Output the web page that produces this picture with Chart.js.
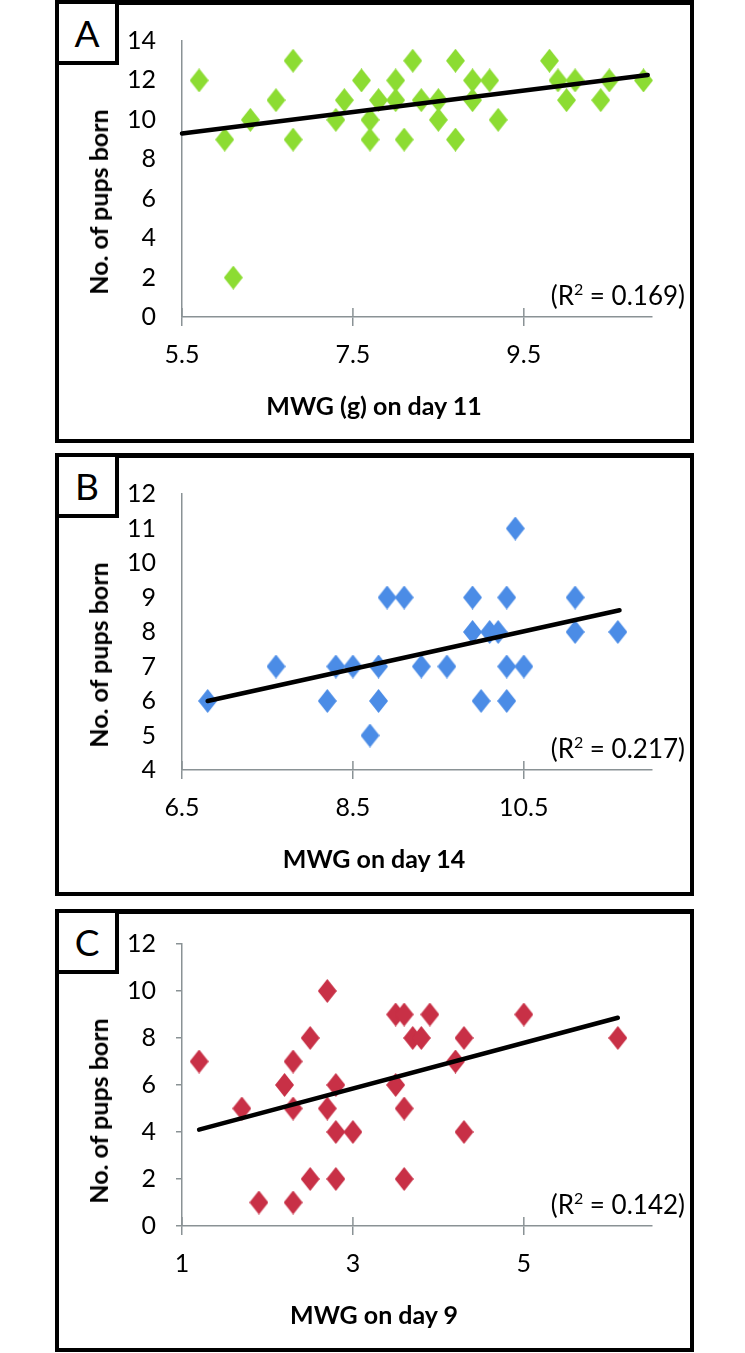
<!DOCTYPE html>
<html>
<head>
<meta charset="utf-8">
<script src="https://cdn.jsdelivr.net/npm/chart.js@4.4.0/dist/chart.umd.min.js"></script>
<style>
  body { margin: 0; background: #fff; width: 745px; height: 1353px; position: relative; overflow: hidden; font-family: Lato, sans-serif; }
  .panel { position: absolute; left: 55px; width: 639px; height: 443px; }
  .panel canvas { position: absolute; left: 0; top: 0; }
  .frame { position: absolute; left: 0; top: 0; right: 0; bottom: 0; border: 4px solid #000; border-top-width: 5px; box-sizing: border-box; pointer-events: none; }
  .tag { position: absolute; left: 0; top: 0; width: 64px; height: 65px; box-sizing: border-box; border: 4px solid #000; background: #fff; font-size: 37px; display: flex; align-items: center; justify-content: center; }
  .ytitle { position: absolute; left: 43px; top: 202px; font-weight: bold; font-size: 25px; white-space: nowrap; transform: translate(-50%, -50%) rotate(-90deg); }
  .xtitle { position: absolute; left: 319px; top: 405px; font-weight: bold; font-size: 25px; white-space: nowrap; transform: translate(-50%, -50%); }
  .r2 { position: absolute; right: 9px; top: 295px; font-size: 26px; white-space: nowrap; transform: translateY(-50%); }
  .r2 sup { font-size: 16px; vertical-align: 10px; line-height: 0; }
</style>
</head>
<body>

<div class="panel" style="top:0px">
  <canvas id="chartA" width="639" height="443"></canvas>
  <div class="frame"></div>
  <div class="tag">A</div>
  <div class="ytitle">No. of pups born</div>
  <div class="xtitle">MWG (g) on day 11</div>
  <div class="r2">(R<sup>2</sup> = 0.169)</div>
</div>

<div class="panel" style="top:453px">
  <canvas id="chartB" width="639" height="443"></canvas>
  <div class="frame"></div>
  <div class="tag">B</div>
  <div class="ytitle">No. of pups born</div>
  <div class="xtitle">MWG on day 14</div>
  <div class="r2">(R<sup>2</sup> = 0.217)</div>
</div>

<div class="panel" style="top:909px">
  <canvas id="chartC" width="639" height="443"></canvas>
  <div class="frame"></div>
  <div class="tag">C</div>
  <div class="ytitle">No. of pups born</div>
  <div class="xtitle">MWG on day 9</div>
  <div class="r2">(R<sup>2</sup> = 0.142)</div>
</div>

<script>
// Panel A: MWG (g) on day 11
const mwgA = [5.7, 6.0, 6.1, 6.3, 6.6, 6.8, 6.8, 7.3, 7.4, 7.6, 7.7, 7.7, 7.8, 8.0, 8.0, 8.1, 8.2,
              8.3, 8.5, 8.5, 8.7, 8.7, 8.9, 8.9, 9.1, 9.2, 9.8, 9.9, 10.0, 10.1, 10.4, 10.5, 10.9];
const pupsA = [12, 9, 2, 10, 11, 13, 9, 10, 11, 12, 10, 9, 11, 12, 11, 9, 13,
               11, 11, 10, 13, 9, 12, 11, 12, 10, 13, 12, 11, 12, 11, 12, 12];
const trendAx = [5.5, 10.95];
const trendAy = [9.31, 12.27];
const xTicksA = [5.5, 7.5, 9.5];

// Panel B: MWG on day 14
const mwgB = [10.4, 8.9, 9.1, 9.9, 10.3, 11.1, 9.9, 10.1, 10.2, 11.1, 11.6, 7.6, 8.3, 8.5,
              8.8, 9.3, 9.6, 10.3, 10.5, 6.8, 8.2, 8.8, 10.0, 10.3, 8.7];
const pupsB = [11, 9, 9, 9, 9, 9, 8, 8, 8, 8, 8, 7, 7, 7,
               7, 7, 7, 7, 7, 6, 6, 6, 6, 6, 5];
const trendBx = [6.8, 11.62];
const trendBy = [6.0, 8.63];
const xTicksB = [6.5, 8.5, 10.5];

// Panel C: MWG on day 9
const mwgC = [2.7, 3.5, 3.6, 3.9, 5.0, 2.5, 3.7, 3.8, 4.3, 6.1, 1.2, 2.3, 4.2, 2.2,
              2.8, 3.5, 1.7, 2.3, 2.7, 3.6, 2.8, 3.0, 4.3, 2.5, 2.8, 3.6, 1.9, 2.3];
const pupsC = [10, 9, 9, 9, 9, 8, 8, 8, 8, 8, 7, 7, 7, 6,
               6, 6, 5, 5, 5, 5, 4, 4, 4, 2, 2, 2, 1, 1];
const trendCx = [1.2, 6.1];
const trendCy = [4.1, 8.86];
const xTicksC = [1, 3, 5];

const axisColor = '#8a9295';
const tickFont = { family: 'Lato', size: 25 };

function diamond(color) {
  const c = document.createElement('canvas');
  c.width = 19; c.height = 24;
  const g = c.getContext('2d');
  g.fillStyle = color;
  g.beginPath();
  g.moveTo(9.5, 0); g.lineTo(19, 12); g.lineTo(9.5, 24); g.lineTo(0, 12);
  g.closePath();
  g.fill();
  return c;
}

// x axis tick marks cross the axis line, draw the upper half
const crossTicks = {
  id: 'crossTicks',
  beforeDatasetsDraw(chart) {
    const sx = chart.scales.x, ctx = chart.ctx;
    ctx.save();
    ctx.strokeStyle = axisColor;
    ctx.lineWidth = 1.5;
    sx.ticks.forEach(t => {
      const px = sx.getPixelForValue(t.value);
      ctx.beginPath();
      ctx.moveTo(px, sx.top - 9);
      ctx.lineTo(px, sx.top);
      ctx.stroke();
    });
    ctx.restore();
  }
};

function drawPanel(id, xs, ys, tx, ty, xTicks, color, xr, yr, yStep, yTickLen) {
  const pts = xs.map((x, i) => ({ x: x, y: ys[i] }));
  const trend = tx.map((x, i) => ({ x: x, y: ty[i] }));
  return new Chart(document.getElementById(id), {
    type: 'scatter',
    data: {
      datasets: [{
        data: trend,
        showLine: true,
        borderColor: '#000',
        borderWidth: 4.5,
        borderCapStyle: 'round',
        pointRadius: 0,
        clip: false
      }, {
        data: pts,
        pointStyle: diamond(color),
        pointRadius: 10,
        clip: false
      }]
    },
    options: {
      responsive: false,
      animation: false,
      events: [],
      layout: { padding: { left: 67, top: 33, right: 42, bottom: 0 } },
      plugins: { legend: { display: false }, tooltip: { enabled: false } },
      scales: {
        x: {
          type: 'linear',
          min: xr[0],
          max: xr[1],
          afterBuildTicks: s => { s.ticks = xTicks.map(v => ({ value: v })); },
          afterFit: s => { s.height = 126; },
          border: { color: axisColor, width: 1.5 },
          grid: { drawOnChartArea: false, drawTicks: true, tickLength: 9, color: axisColor, lineWidth: 1.5 },
          ticks: { color: '#000', font: tickFont, padding: 14, maxRotation: 0 }
        },
        y: {
          min: yr[0],
          max: yr[1],
          afterFit: s => { s.width = 60; },
          border: { color: axisColor, width: 1.5 },
          grid: { drawOnChartArea: false, drawTicks: yTickLen > 0, tickLength: yTickLen, color: axisColor, lineWidth: 1.5 },
          ticks: { stepSize: yStep, color: '#000', font: tickFont, padding: 26 - yTickLen }
        }
      }
    },
    plugins: [crossTicks]
  });
}

drawPanel('chartA', mwgA, pupsA, trendAx, trendAy, xTicksA, '#8cdc32', [5.5, 11], [0, 14], 2, 0);
drawPanel('chartB', mwgB, pupsB, trendBx, trendBy, xTicksB, '#4b8ce6', [6.5, 12], [4, 12], 1, 0);
drawPanel('chartC', mwgC, pupsC, trendCx, trendCy, xTicksC, '#c83046', [1, 6.5], [0, 12], 2, 6);
</script>
</body>
</html>
